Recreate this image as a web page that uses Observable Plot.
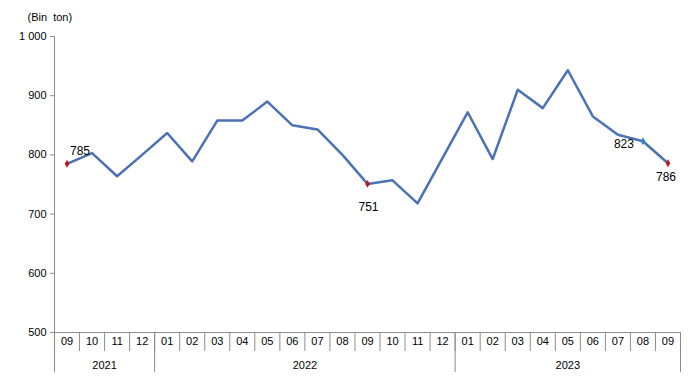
<!DOCTYPE html>
<html><head><meta charset="utf-8">
<script src="https://cdn.jsdelivr.net/npm/d3@7"></script>
<script src="https://cdn.jsdelivr.net/npm/@observablehq/plot@0.6"></script>
<style>
body{margin:0;background:#fff}
svg{font-family:"Liberation Sans",Arial,sans-serif}
</style>
</head><body><div id="chart"></div>
<script>
const periods = ["2021-09","2021-10","2021-11","2021-12",
  "2022-01","2022-02","2022-03","2022-04","2022-05","2022-06","2022-07","2022-08","2022-09","2022-10","2022-11","2022-12",
  "2023-01","2023-02","2023-03","2023-04","2023-05","2023-06","2023-07","2023-08","2023-09"];
const values = [785, 803, 764, 800,
  837, 789, 858, 858, 890, 850, 843, 800, 751, 757, 718, 795,
  872, 793, 910, 879, 943, 865, 834, 823, 786];
const yTicks = [500, 600, 700, 800, 900, 1000];
const unitLabel = "(Bin  ton)";
const redMarked = ["2021-09", "2022-09", "2023-09"];
const blueMarked = ["2023-08"];

const data = periods.map((p, i) => ({i, p, v: values[i], month: p.slice(5), year: p.slice(0, 4)}));
const months = data.map(d => d.month);
const yearNames = Array.from(new Set(data.map(d => d.year)));
const yearCenters = yearNames.map(y => d3.mean(data.filter(d => d.year === y), d => d.i));
const boundaries = d3.range(data.length + 1).map(k => k - 0.5);
const yearBounds = [-0.5, ...yearNames.map(y => d3.max(data.filter(d => d.year === y), d => d.i) + 0.5)];
const fmt = d3.formatLocale({thousands: " ", grouping: [3], decimal: ","}).format(",d");
const pick = p => data.filter(d => d.p === p);

const gray = "#8c8c8c";
const chart = Plot.plot({
  width: 691, height: 376,
  marginLeft: 54, marginRight: 11, marginTop: 36, marginBottom: 44,
  style: {fontFamily: '"Liberation Sans", Arial, sans-serif', fontSize: "11px", color: "#000", background: "#fff"},
  x: {type: "linear", domain: [-0.5, data.length - 0.5], axis: null},
  y: {domain: [500, 1000], axis: null},
  marks: [
    Plot.axisY({ticks: yTicks, tickSize: 4, tickPadding: 4, tickFormat: fmt, stroke: gray, label: null, fontSize: 11}),
    Plot.ruleX([-0.5], {y1: 500, y2: 1000, stroke: gray}),
    Plot.ruleY([500], {stroke: gray}),
    Plot.axisX({ticks: boundaries, tickSize: 19, tickFormat: () => "", stroke: gray, label: null}),
    Plot.axisX({ticks: yearBounds, tickSize: 40, tickFormat: () => "", stroke: gray, label: null}),
    Plot.axisX({ticks: d3.range(data.length), tickSize: 0, tickPadding: 5, tickFormat: i => months[i], label: null, fontSize: 11}),
    Plot.axisX({ticks: yearCenters, tickSize: 0, tickPadding: 29, tickFormat: v => yearNames[yearCenters.indexOf(v)], label: null, fontSize: 11}),
    Plot.line(data, {x: "i", y: "v", stroke: "#4a72b4", strokeWidth: 2.5}),
    Plot.dot(data.filter(d => redMarked.includes(d.p)), {x: "i", y: "v", symbol: "diamond", r: 2.4, fill: "#c0141c"}),
    Plot.dot(data.filter(d => blueMarked.includes(d.p)), {x: "i", y: "v", symbol: "diamond", r: 2.4, fill: "#3f7fc4"}),
    Plot.text(pick("2021-09"), {x: "i", y: "v", text: d => String(d.v), dx: 13, dy: -13, fontSize: 12, fill: "#000"}),
    Plot.text(pick("2022-09"), {x: "i", y: "v", text: d => String(d.v), dx: 1, dy: 23, fontSize: 12, fill: "#000"}),
    Plot.text(pick("2023-08"), {x: "i", y: "v", text: d => String(d.v), dx: -19, dy: 3, fontSize: 12, fill: "#000"}),
    Plot.text(pick("2023-09"), {x: "i", y: "v", text: d => String(d.v), dx: -2, dy: 14, fontSize: 12, fill: "#000"}),
    Plot.text([unitLabel], {frameAnchor: "top-left", textAnchor: "start", dx: -27, dy: -23, fontSize: 11, fill: "#000", style: "white-space: pre"})
  ]
});
document.getElementById("chart").appendChild(chart);
</script>
</body></html>
